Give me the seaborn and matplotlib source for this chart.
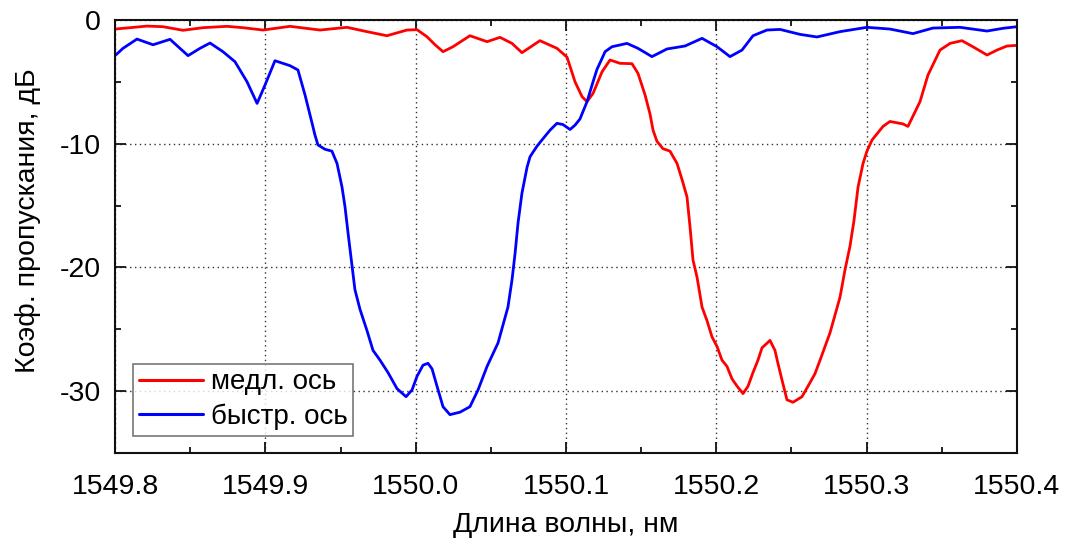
import numpy as np
import pandas as pd
import matplotlib
matplotlib.use("Agg")
import matplotlib.pyplot as plt
from matplotlib.ticker import MultipleLocator
import seaborn as sns

# Slow-axis transmission spectrum (wavelength, nm / transmission, dB)
slow_wl = [1549.8000, 1549.8100, 1549.8213, 1549.8319, 1549.8452, 1549.8585, 1549.8745,
           1549.8851, 1549.8985, 1549.9164, 1549.9364, 1549.9543, 1549.9676, 1549.9809,
           1549.9942, 1550.0009, 1550.0075, 1550.0129, 1550.0182, 1550.0248, 1550.0361,
           1550.0475, 1550.0561, 1550.0641, 1550.0707, 1550.0827, 1550.0940, 1550.1007,
           1550.1060, 1550.1107, 1550.1140, 1550.1180, 1550.1240, 1550.1293, 1550.1359,
           1550.1439, 1550.1479, 1550.1526, 1550.1559, 1550.1579, 1550.1605, 1550.1645,
           1550.1692, 1550.1739, 1550.1772, 1550.1805, 1550.1825, 1550.1845, 1550.1872,
           1550.1905, 1550.1938, 1550.1971, 1550.2005, 1550.2038, 1550.2071, 1550.2104,
           1550.2138, 1550.2178, 1550.2211, 1550.2244, 1550.2277, 1550.2304, 1550.2357,
           1550.2390, 1550.2410, 1550.2437, 1550.2470, 1550.2510, 1550.2570, 1550.2610,
           1550.2656, 1550.2690, 1550.2756, 1550.2823, 1550.2856, 1550.2889, 1550.2916,
           1550.2943, 1550.2976, 1550.3002, 1550.3036, 1550.3069, 1550.3109, 1550.3155,
           1550.3242, 1550.3275, 1550.3355, 1550.3408, 1550.3488, 1550.3555, 1550.3634,
           1550.3707, 1550.3801, 1550.3867, 1550.3934, 1550.4000]
slow_db = [-0.73, -0.62, -0.49, -0.54, -0.83, -0.62, -0.51,
           -0.62, -0.81, -0.51, -0.81, -0.59, -0.94, -1.27,
           -0.81, -0.78, -1.35, -2.00, -2.56, -2.16, -1.27,
           -1.75, -1.40, -1.89, -2.64, -1.67, -2.29, -3.00,
           -4.99, -6.20, -6.60, -5.93, -4.18, -3.23, -3.50,
           -3.53, -4.31, -6.06, -7.60, -8.90, -9.80, -10.40,
           -10.60, -11.60, -12.90, -14.30, -16.70, -19.40, -20.80,
           -23.20, -24.30, -25.60, -26.40, -27.50, -28.00, -29.00,
           -29.60, -30.20, -29.60, -28.50, -27.50, -26.50, -25.90,
           -26.70, -27.75, -29.10, -30.70, -30.90, -30.45, -29.60,
           -28.60, -27.50, -25.30, -22.40, -20.20, -18.30, -16.20,
           -13.50, -11.60, -10.60, -9.70, -9.20, -8.60, -8.20,
           -8.40, -8.60, -6.60, -4.45, -2.43, -1.89, -1.67,
           -2.16, -2.83, -2.43, -2.10, -2.05]

# Fast-axis transmission spectrum
fast_wl = [1549.8000, 1549.8053, 1549.8146, 1549.8253, 1549.8366, 1549.8432, 1549.8486,
           1549.8565, 1549.8632, 1549.8718, 1549.8798, 1549.8878, 1549.8945, 1549.8998,
           1549.9064, 1549.9164, 1549.9217, 1549.9264, 1549.9310, 1549.9330, 1549.9350,
           1549.9397, 1549.9443, 1549.9477, 1549.9510, 1549.9530, 1549.9550, 1549.9577,
           1549.9596, 1549.9630, 1549.9676, 1549.9716, 1549.9763, 1549.9816, 1549.9876,
           1549.9936, 1549.9976, 1550.0009, 1550.0049, 1550.0082, 1550.0109, 1550.0142,
           1550.0182, 1550.0228, 1550.0295, 1550.0361, 1550.0415, 1550.0475, 1550.0548,
           1550.0614, 1550.0641, 1550.0661, 1550.0681, 1550.0707, 1550.0741, 1550.0761,
           1550.0807, 1550.0840, 1550.0894, 1550.0940, 1550.0980, 1550.1027, 1550.1060,
           1550.1093, 1550.1140, 1550.1180, 1550.1206, 1550.1240, 1550.1260, 1550.1306,
           1550.1406, 1550.1479, 1550.1572, 1550.1672, 1550.1792, 1550.1905, 1550.2005,
           1550.2091, 1550.2171, 1550.2244, 1550.2337, 1550.2424, 1550.2557, 1550.2670,
           1550.2823, 1550.3002, 1550.3155, 1550.3308, 1550.3441, 1550.3621, 1550.3801,
           1550.3907, 1550.4000]
fast_db = [-2.88, -2.29, -1.54, -2.00, -1.56, -2.29, -2.88,
           -2.29, -1.86, -2.56, -3.37, -4.99, -6.74, -5.25,
           -3.29, -3.69, -4.04, -6.06, -8.30, -9.30, -10.10,
           -10.45, -10.60, -11.60, -13.50, -15.10, -17.20, -19.90,
           -21.80, -23.40, -25.10, -26.70, -27.50, -28.50, -29.80,
           -30.45, -29.90, -28.80, -27.90, -27.75, -28.20, -29.60,
           -31.26, -31.90, -31.70, -31.26, -29.90, -28.00, -26.10,
           -23.20, -21.00, -18.90, -16.40, -14.00, -11.90, -11.05,
           -10.20, -9.70, -8.90, -8.35, -8.45, -8.85, -8.50,
           -8.00, -6.60, -4.99, -4.00, -3.10, -2.56, -2.16,
           -1.89, -2.29, -2.96, -2.34, -2.10, -1.48, -2.16,
           -2.96, -2.43, -1.27, -0.81, -0.76, -1.16, -1.37,
           -0.94, -0.59, -0.73, -1.10, -0.65, -0.59, -0.89,
           -0.67, -0.54]

series_names = ["медл. ось", "быстр. ось"]
x_ticks = [1549.8, 1549.9, 1550.0, 1550.1, 1550.2, 1550.3, 1550.4]
y_ticks = [0, -10, -20, -30]

df = pd.concat([
    pd.DataFrame({"wl": slow_wl, "db": slow_db, "axis": series_names[0]}),
    pd.DataFrame({"wl": fast_wl, "db": fast_db, "axis": series_names[1]}),
], ignore_index=True)

sns.set_style("ticks")
plt.rcParams["font.family"] = ["Liberation Sans", "DejaVu Sans"]
plt.rcParams["text.color"] = "black"
plt.rcParams["axes.labelcolor"] = "black"
plt.rcParams["xtick.labelcolor"] = "black"
plt.rcParams["ytick.labelcolor"] = "black"
plt.rcParams["lines.solid_joinstyle"] = "round"
plt.rcParams["lines.solid_capstyle"] = "round"

fig, ax = plt.subplots(figsize=(10.68, 5.44), dpi=100)
fig.subplots_adjust(left=0.1077, right=0.9522, top=0.9632, bottom=0.1673)

sns.lineplot(data=df, x="wl", y="db", hue="axis", sort=False,
             palette={series_names[0]: "#ff0000", series_names[1]: "#0000ff"},
             linewidth=2.0, ax=ax)

ax.set_xlim(1549.8, 1550.4)
ax.set_ylim(-35, 0)
ax.set_xticks(x_ticks)
ax.set_xticklabels([f"{v:.1f}" for v in x_ticks])
ax.set_yticks(y_ticks)
ax.set_yticklabels([str(v) for v in y_ticks])
ax.xaxis.set_minor_locator(MultipleLocator(0.05))
ax.yaxis.set_minor_locator(MultipleLocator(5))

ax.grid(True, which="major", linestyle=(0, (1, 2.5)), color="#333333", linewidth=1.0)
ax.tick_params(which="both", direction="in", top=True, right=True,
               width=1.3, color="#111111")
ax.tick_params(which="major", length=8, labelsize=20.5)
ax.tick_params(axis="x", which="major", pad=15)
ax.tick_params(axis="y", which="major", pad=10)
ax.tick_params(which="minor", length=4)
for sp in ax.spines.values():
    sp.set_linewidth(1.5)
    sp.set_color("#111111")

ax.set_xlabel("Длина волны, нм", fontsize=20.5, labelpad=9)
ax.set_ylabel("Коэф. пропускания, дБ", fontsize=20.5)
ax.yaxis.set_label_coords(-0.082, 0.536)

leg = ax.legend(loc="lower left", bbox_to_anchor=(0.02, 0.04), borderaxespad=0,
                fontsize=20, frameon=True, fancybox=False, handlelength=2.3,
                handletextpad=0.3, borderpad=0.2, labelspacing=0.3, title=None)
leg.get_frame().set_edgecolor("#555555")
leg.get_frame().set_linewidth(1.2)
for line in leg.get_lines():
    line.set_linewidth(2.2)

fig.savefig("out.png", dpi=100)
